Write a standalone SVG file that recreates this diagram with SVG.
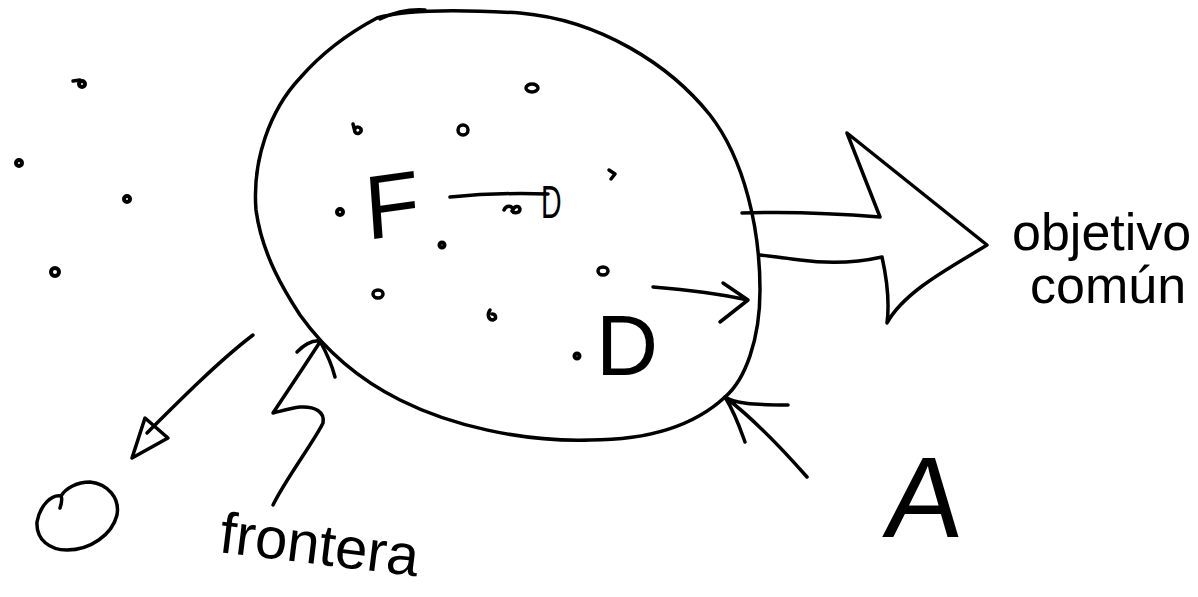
<svg xmlns="http://www.w3.org/2000/svg" width="1198" height="597" viewBox="0 0 1198 597">
<style>
.s{fill:none;stroke:#000;stroke-width:3.5;stroke-linecap:round;stroke-linejoin:round}
.d{fill:none;stroke:#000;stroke-width:4;stroke-linecap:round}
.t{font-family:"Liberation Sans",Arial,sans-serif;fill:#000}
</style>
<rect width="1198" height="597" fill="#fff"/>
<g id="sistema">
<path class="s" d="M377,18 C410,8 470,10 520,13 C600,20 670,65 710,115 C745,160 760,230 760,290 C760,340 745,380 725,397 C695,425 650,440 590,440 C520,442 450,425 400,400 C360,380 325,350 300,315 C285,292 262,255 256,210 C252,160 270,110 300,78 C320,55 345,35 377,18 Z"/>
<path class="s" d="M380,19 C395,12 410,9 425,10" stroke-width="4.5"/>
</g>
<g id="particulas">
<circle class="d" cx="82" cy="84" r="3"/><path class="s" d="M73,81 L80,80"/>
<circle class="d" cx="19" cy="163" r="3"/>
<circle class="d" cx="127" cy="199" r="3"/>
<circle class="d" cx="55" cy="272" r="4"/>
<path class="s" d="M353,124 L355,132 C357,135 362,133 361,129 C359,126 355,127 355,129"/>
<ellipse class="s" cx="463" cy="130" rx="5" ry="5"/>
<ellipse class="s" cx="532" cy="88" rx="6" ry="4"/>
<path class="s" d="M609,170 L615,174 L611,179" stroke-width="4.5"/>
<circle class="d" cx="340" cy="212" r="3"/>
<circle class="d" cx="442" cy="245" r="2.5"/>
<ellipse class="s" cx="378" cy="294" rx="5" ry="4"/>
<path class="s" d="M490,310 C487,314 488,320 493,320 C497,319 496,314 492,314"/>
<ellipse class="s" cx="603" cy="271" rx="5" ry="4"/>
<circle class="d" cx="577" cy="356" r="2.5"/>
<path class="s" d="M504,210 C506,205 512,205 513,210 C514,206 519,205 520,209 C520,213 514,214 512,211"/>
</g>
<g id="etiquetas">
<text class="t" transform="translate(367,240) rotate(-8) skewX(-4)" font-size="90">F</text>
<text class="t" transform="translate(541,218) scale(0.62,1)" font-size="46">D</text>
<text class="t" x="596" y="375" font-size="86">D</text>
<text class="t" transform="translate(882,537) skewX(-6)" font-size="115">A</text>
<text class="t" x="1012" y="250" font-size="52">objetivo</text>
<text class="t" x="1030" y="303" font-size="52">común</text>
<text class="t" transform="translate(218,552) rotate(7)" font-size="58">frontera</text>
</g>
<g id="conectores">
<path class="s" d="M450,197 C480,194 520,193 548,194"/>
<path class="s" d="M653,287 C690,290 725,295 748,300 M723,283 L748,300 L720,322"/>
<path class="s" d="M742,213 C770,212 820,212 880,217 L847,133 C900,175 950,215 987,245 C955,265 905,290 887,323 C890,300 886,275 882,257 C860,262 830,264 800,260 C785,258 770,256 760,255"/>
<path class="s" d="M253,335 C220,360 180,400 147,433 M145,418 L132,458 L168,438 Z"/>
<path class="s" d="M273,505 C285,480 315,440 323,423 C325,412 315,406 300,407 C290,408 278,412 273,413 C285,395 305,365 320,342 M297,352 C305,344 313,340 320,341 C326,352 332,365 335,377"/>
<path class="s" d="M60,508 C62,502 62,498 61,496 C52,494 40,505 37,522 C36,540 50,550 67,550 C90,550 112,535 117,515 C120,498 108,484 90,482 C77,482 66,488 61,496"/>
<path class="s" d="M807,477 C785,452 755,420 725,397 M725,397 C735,403 750,405 788,405 M725,397 C735,413 740,428 745,442"/>
</g>
</svg>
